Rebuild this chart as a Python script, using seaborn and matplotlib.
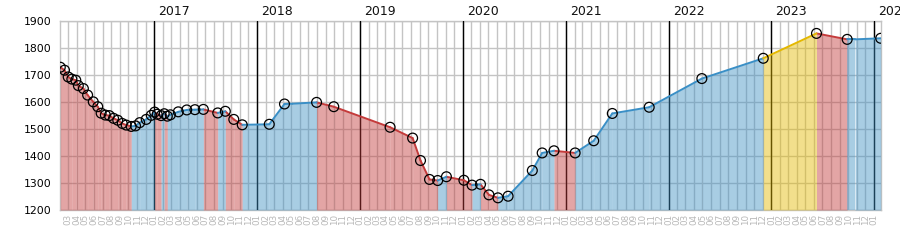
import matplotlib
matplotlib.use("Agg")
import matplotlib.pyplot as plt
import matplotlib.dates as mdates
import numpy as np
import pandas as pd
import seaborn as sns

# ---- data ----
dates = [
    "2016-02-02", "2016-02-17", "2016-03-01", "2016-03-14", "2016-03-28",
    "2016-04-06", "2016-04-24", "2016-05-09", "2016-05-29", "2016-06-14",
    "2016-06-26", "2016-07-11", "2016-07-25", "2016-08-09", "2016-08-24",
    "2016-09-09", "2016-09-23", "2016-10-11", "2016-10-26", "2016-11-10",
    "2016-12-03", "2016-12-21", "2017-01-02", "2017-01-11", "2017-01-25",
    "2017-02-05", "2017-02-16", "2017-02-27", "2017-03-27", "2017-04-26",
    "2017-05-25", "2017-06-24", "2017-08-14", "2017-09-10", "2017-10-10",
    "2017-11-09", "2018-02-13", "2018-04-08", "2018-05-06", "2018-07-31",
    "2018-09-30", "2019-04-18", "2019-07-07", "2019-08-04", "2019-09-05",
    "2019-10-04", "2019-11-04", "2020-01-05", "2020-02-03", "2020-03-04",
    "2020-04-03", "2020-05-05", "2020-06-10", "2020-09-04", "2020-10-09",
    "2020-11-20", "2021-02-03", "2021-04-10", "2021-06-15", "2021-10-24",
    "2022-04-29", "2022-12-03", "2023-06-10", "2023-09-27", "2023-10-25",
    "2024-01-24",
]
values = [
    1728, 1717, 1692, 1684, 1680,
    1660, 1649, 1625, 1600, 1582,
    1558, 1551, 1549, 1539, 1532,
    1520, 1514, 1509, 1511, 1523,
    1535, 1550, 1562, 1554, 1549,
    1556, 1547, 1552, 1563, 1570,
    1571, 1572, 1559, 1565, 1535,
    1515, 1517, 1592, 1593, 1598,
    1582, 1506, 1466, 1383, 1313,
    1309, 1323, 1310, 1292, 1295,
    1256, 1245, 1251, 1346, 1411,
    1419, 1411, 1456, 1557, 1580,
    1686, 1761, 1853, 1831, 1831,
    1835,
]
# points drawn on the line without a circle marker
no_marker_dates = ["2018-05-06", "2023-10-25"]
# segments (start date) drawn in the "hold" (yellow) class
hold_segments = ["2022-12-03"]

year_labels = ["2017", "2018", "2019", "2020", "2021", "2022", "2023", "2024"]
y_ticks = [1200, 1300, 1400, 1500, 1600, 1700, 1800, 1900]

# ---- styling ----
line_colors = {"down": "#c43b3b", "up": "#3a8fc6", "hold": "#e4b800"}
fill_colors = {"down": "#c13939", "up": "#3e90c3", "hold": "#e4ba00"}
fill_alpha = 0.45

dt = pd.to_datetime(dates)
vals = np.array(values, dtype=float)

seg_rows = []
seg_info = []
for i in range(len(dt) - 1):
    if dates[i] in hold_segments:
        cls = "hold"
    elif vals[i + 1] < vals[i]:
        cls = "down"
    else:
        cls = "up"
    seg_info.append((dt[i], dt[i + 1], vals[i], vals[i + 1], cls))
    seg_rows.append({"date": dt[i], "value": vals[i], "trend": cls, "seg": i})
    seg_rows.append({"date": dt[i + 1], "value": vals[i + 1], "trend": cls, "seg": i})
seg_df = pd.DataFrame(seg_rows)

mk_df = pd.DataFrame({"date": dt, "value": vals})
mk_df = mk_df[~pd.Series(dates).isin(no_marker_dates).values]

sns.set_style("white")
plt.rcParams["font.family"] = ["DejaVu Sans"]

fig = plt.figure(figsize=(9, 2.5), dpi=100)
ax = fig.add_axes([60.3 / 900, 1 - 210 / 250, (880.7 - 60.3) / 900, (210 - 20.7) / 250])

# grid (below everything)
ax.xaxis.set_major_locator(mdates.MonthLocator())
ax.xaxis.set_major_formatter(mdates.DateFormatter("%m"))
ax.grid(True, which="major", axis="both", color="#c4c4c4", lw=1.0)
for gl in ax.get_xgridlines() + ax.get_ygridlines():
    gl.set_zorder(0.2)
ax.set_axisbelow(True)
for yl in year_labels:
    d = pd.Timestamp(f"{yl}-01-01")
    ax.axvline(d, color="black", lw=1.0, zorder=0.9)

# filled areas per segment
for (d0, d1, v0, v1, cls) in seg_info:
    ax.fill_between([d0, d1], [v0, v1], 1200, color=fill_colors[cls],
                    alpha=fill_alpha, lw=0, zorder=1)

# coloured line
sns.lineplot(data=seg_df, x="date", y="value", hue="trend", units="seg",
             estimator=None, palette=line_colors, lw=1.4, legend=False,
             ax=ax, zorder=2)

# hollow markers
sns.scatterplot(data=mk_df, x="date", y="value", marker="o", s=50,
                facecolor="none", edgecolor="black", linewidth=0.9,
                legend=False, ax=ax, zorder=3)

ax.set_xlim(dt[0], dt[-1])
ax.set_ylim(1200, 1900)
ax.set_yticks(y_ticks)
ax.set_xlabel("")
ax.set_ylabel("")

ax.tick_params(axis="y", length=0, pad=6, labelsize=7.8, labelcolor="black")
ax.tick_params(axis="x", length=0, pad=3, labelsize=6.3, labelcolor="#b8b8b8",
               labelrotation=90)
for lab in ax.get_xticklabels():
    lab.set_horizontalalignment("center")
    lab.set_verticalalignment("top")

for sp in ax.spines.values():
    sp.set_color("#c4c4c4")
    sp.set_linewidth(1.0)
    sp.set_zorder(0.3)

for yl in year_labels:
    d = pd.Timestamp(f"{yl}-01-01")
    ax.annotate(yl, xy=(mdates.date2num(d), 1), xycoords=("data", "axes fraction"),
                xytext=(4, 3), textcoords="offset pixels", ha="left", va="bottom",
                fontsize=9, color="#111111", annotation_clip=False)

fig.savefig("out.png", dpi=100)
